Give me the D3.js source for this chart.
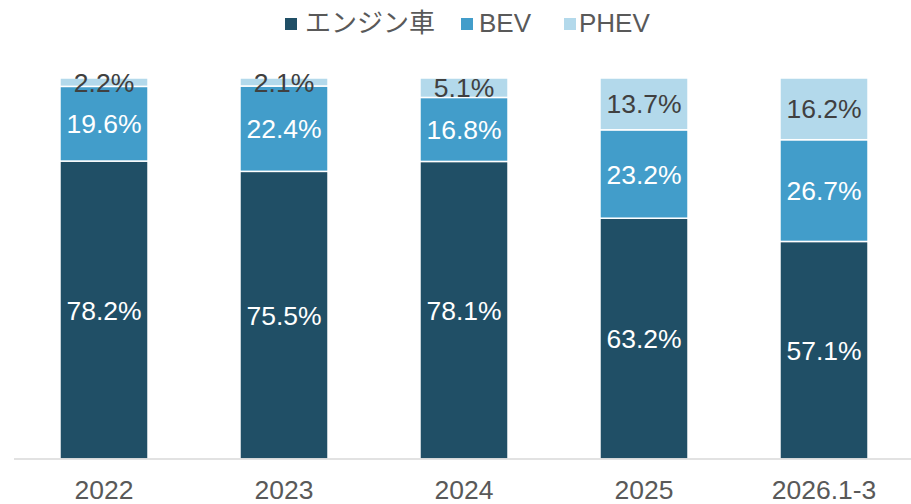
<!DOCTYPE html>
<html>
<head>
<meta charset="utf-8">
<script src="https://cdn.jsdelivr.net/npm/d3@7"></script>
<style>
  body { margin: 0; background: #fff; }
  text { font-family: Arial, "Liberation Sans", "Noto Sans CJK JP", sans-serif; }
</style>
</head>
<body>
<div id="chart"></div>
<script>
let categories = ["2022", "2023", "2024", "2025", "2026.1-3"];
let engine = [78.2, 75.5, 78.1, 63.2, 57.1];
let bev = [19.6, 22.4, 16.8, 23.2, 26.7];
let phev = [2.2, 2.1, 5.1, 13.7, 16.2];
let seriesNames = ["エンジン車", "BEV", "PHEV"];
let colors = ["#204f66", "#429dca", "#b3d9eb"];
let labelColors = ["#ffffff", "#ffffff", "#404040"];

var width = 911, height = 504;
var margin = {top: 78, bottom: 45, left: 14, right: -3};

var svg = d3.select("#chart").append("svg")
    .attr("width", width).attr("height", height);

var x = d3.scaleBand()
    .domain(categories)
    .range([margin.left, width - margin.right])
    .paddingInner(0.511).paddingOuter(0.2555);

var y = d3.scaleLinear()
    .domain([0, 100])
    .range([height - margin.bottom, margin.top]);

// build rows for d3.stack
var rows = categories.map(function(c, i) {
    return {cat: c, "エンジン車": engine[i], "BEV": bev[i], "PHEV": phev[i]};
});
var stacked = d3.stack().keys(seriesNames)(rows);

var groups = svg.selectAll(".series")
    .data(stacked)
    .enter().append("g")
    .attr("class", "series")
    .attr("fill", function(d, i) { return colors[i]; });

groups.selectAll("rect")
    .data(function(d) { return d; })
    .enter().append("rect")
    .attr("x", function(d) { return x(d.data.cat); })
    .attr("y", function(d) { return y(Math.min(d[1], 100)); })
    .attr("width", x.bandwidth())
    .attr("height", function(d) { return y(d[0]) - y(Math.min(d[1], 100)); })
    .attr("stroke", "#fff")
    .attr("stroke-width", 1.5);

// labels
stacked.forEach(function(s, si) {
    svg.selectAll(".lbl" + si)
        .data(s)
        .enter().append("text")
        .attr("x", function(d) { return x(d.data.cat) + x.bandwidth() / 2; })
        .attr("y", function(d) { return (y(d[0]) + y(Math.min(d[1], 100))) / 2; })
        .attr("dy", "0.36em")
        .attr("text-anchor", "middle")
        .attr("font-size", 26.5)
        .attr("fill", labelColors[si])
        .text(function(d) { return (d[1] - d[0]).toFixed(1) + "%"; });
});

// x axis
var axis = svg.append("g")
    .attr("transform", "translate(0," + y(0) + ")")
    .call(d3.axisBottom(x).tickSize(0).tickPadding(21));
axis.select(".domain").attr("stroke", "#d9d9d9").attr("stroke-width", 1.5)
    .attr("d", "M" + margin.left + ",0H" + width);
axis.selectAll("text")
    .attr("font-size", 26.5)
    .attr("fill", "#595959")
    .style("font-family", "Arial, 'Liberation Sans', sans-serif");

// legend
var legendX = [285, 461, 564];
var legendTextX = [305, 479, 579];
var legend = svg.append("g");
seriesNames.forEach(function(n, i) {
    legend.append("rect")
        .attr("x", legendX[i]).attr("y", 18)
        .attr("width", 12).attr("height", 12)
        .attr("fill", colors[i]);
    legend.append("text")
        .attr("x", legendTextX[i]).attr("y", 23)
        .attr("dy", "0.36em")
        .attr("font-size", 26)
        .attr("fill", "#595959")
        .text(n);
});
</script>
</body>
</html>
